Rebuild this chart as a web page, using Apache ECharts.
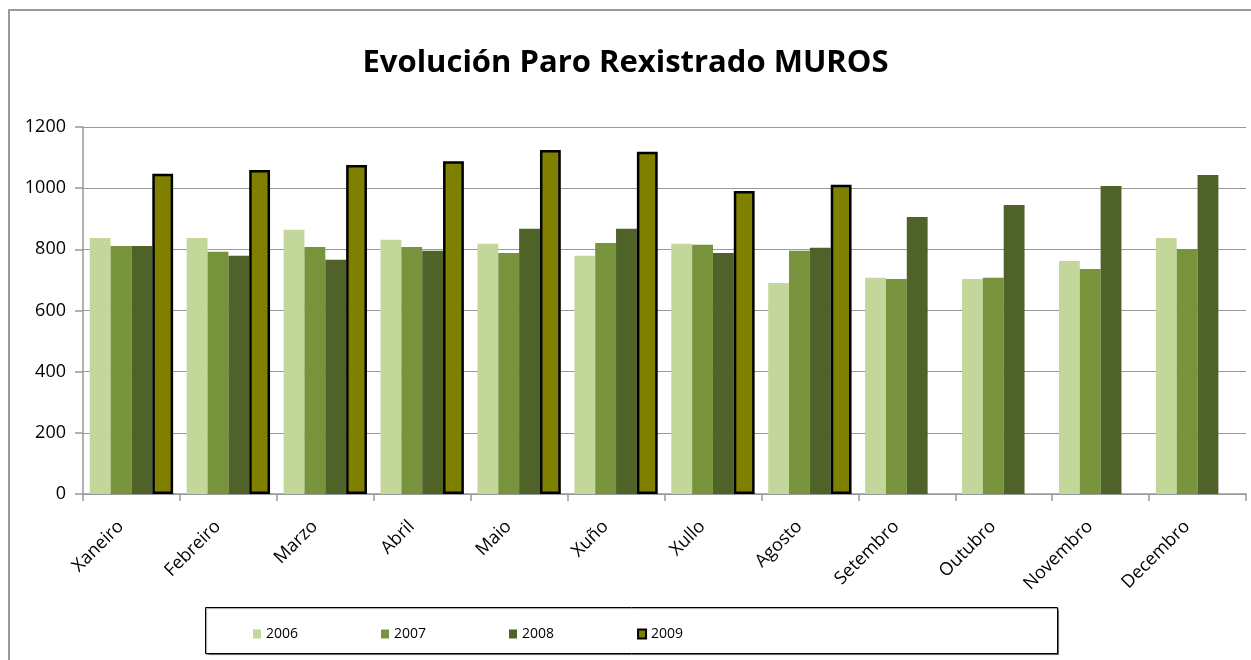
<!DOCTYPE html>
<html>
<head>
<meta charset="utf-8">
<script src="https://cdn.jsdelivr.net/npm/echarts@6/dist/echarts.min.js"></script>
<style>
  html, body { margin: 0; padding: 0; background: #fff; }
  #chart { width: 1251px; height: 660px; }
</style>
</head>
<body>
<div id="chart"></div>
<script>
const months = ['Xaneiro', 'Febreiro', 'Marzo', 'Abril', 'Maio', 'Xuño', 'Xullo', 'Agosto', 'Setembro', 'Outubro', 'Novembro', 'Decembro']
const years = ['2006', '2007', '2008', '2009']
const paro2006 = [837, 837, 864, 831, 818, 779, 818, 690, 707, 703, 762, 837]
const paro2007 = [811, 792, 808, 808, 788, 821, 815, 795, 703, 707, 736, 801]
const paro2008 = [811, 779, 766, 795, 867, 867, 788, 805, 906, 945, 1007, 1043]
const paro2009 = [1047, 1059, 1076, 1088, 1125, 1119, 991, 1011, null, null, null, null]
const yTicks = [0, 200, 400, 600, 800, 1000, 1200]

const font = '"Open Sans", sans-serif'
const chart = echarts.init(document.getElementById('chart'))

function bar(name, data, color, extra) {
  return Object.assign({
    name: name,
    type: 'bar',
    data: data,
    barGap: '0%',
    barCategoryGap: '14%',
    itemStyle: { color: color }
  }, extra || {})
}

chart.setOption({
  animation: false,
  graphic: [
    {
      // outer chart frame
      type: 'rect',
      shape: { x: 9, y: 10, width: 1400, height: 800 },
      style: { fill: 'none', stroke: '#9a9a9a', lineWidth: 2 },
      silent: true
    },
    {
      // legend box
      type: 'rect',
      shape: { x: 205.5, y: 607.5, width: 852, height: 46 },
      style: { fill: '#fff', stroke: '#000', lineWidth: 1, shadowColor: 'rgba(0,0,0,0.4)', shadowOffsetX: 1, shadowOffsetY: 1, shadowBlur: 1 },
      silent: true,
      z: -1
    }
  ],
  title: {
    text: 'Evolución Paro Rexistrado MUROS',
    left: 'center',
    top: 43,
    textStyle: { fontFamily: font, fontWeight: 'bold', fontSize: 31, color: '#000' }
  },
  legend: {
    data: years,
    left: 248,
    top: 622,
    orient: 'horizontal',
    icon: 'rect',
    itemWidth: 8,
    itemHeight: 9,
    itemGap: 83,
    textStyle: { fontFamily: font, fontSize: 14, color: '#000' }
  },
  grid: { left: 83, right: 5, top: 127, bottom: 166, containLabel: false },
  xAxis: {
    type: 'category',
    data: months,
    axisLine: { lineStyle: { color: '#999', width: 1.5 } },
    axisTick: { show: true, length: 7, lineStyle: { color: '#999', width: 1.5 } },
    axisLabel: {
      rotate: 45,
      margin: 19,
      interval: 0,
      padding: [0, 15, 0, 0],
      fontFamily: font,
      fontSize: 18,
      color: '#000'
    }
  },
  yAxis: {
    type: 'value',
    min: yTicks[0],
    max: yTicks[yTicks.length - 1],
    interval: yTicks[1] - yTicks[0],
    axisLine: { show: true, lineStyle: { color: '#999', width: 1.5 } },
    axisTick: { show: true, length: 8, lineStyle: { color: '#999', width: 1.5 } },
    axisLabel: { margin: 17, fontFamily: font, fontSize: 18, color: '#000', formatter: (v) => String(v) },
    splitLine: { lineStyle: { color: '#999', width: 1.2 } }
  },
  series: [
    bar('2006', paro2006, '#c4d79b'),
    bar('2007', paro2007, '#77933c'),
    bar('2008', paro2008, '#4f6228'),
    bar('2009', paro2009, '#808000', {
      itemStyle: { color: '#808000', borderColor: '#000', borderWidth: 2.5 }
    })
  ]
})
</script>
</body>
</html>
